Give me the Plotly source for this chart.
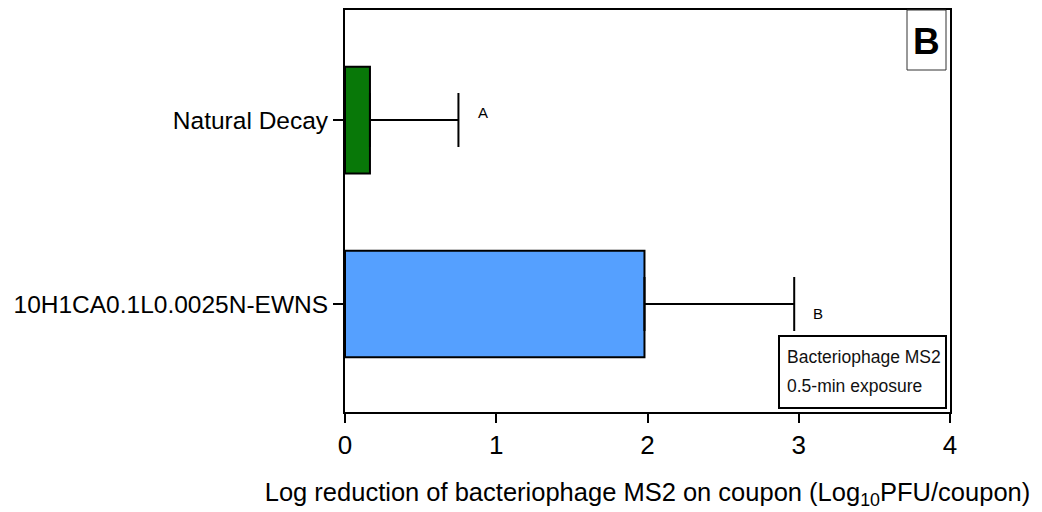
import plotly.graph_objects as go

categories = ["10H1CA0.1L0.0025N-EWNS", "Natural Decay"]
values = [1.98, 0.165]
errors = [0.99, 0.585]
colors = ["#55a0ff", "#087808"]
letters = ["B", "A"]
x_ticks = [0, 1, 2, 3, 4]

L, R, T, B = 345, 950, 10, 412
W, H = 1042, 512

def px(xp):
    return (xp - L) / (R - L)

def py(yp):
    return (B - yp) / (B - T)

fig = go.Figure()
fig.add_trace(go.Bar(
    y=categories, x=values, orientation="h", width=0.58,
    marker=dict(color=colors, line=dict(color="black", width=2)),
    error_x=dict(type="data", array=errors, symmetric=False, arrayminus=[0, 0],
                 color="black", thickness=2, width=27),
    showlegend=False,
))

# significance letters
fig.add_annotation(x=0.912, y=1.043, xref="x", yref="y", text=letters[1], showarrow=False,
                   xanchor="center", yanchor="middle",
                   font=dict(size=15, color="black", family="Liberation Sans"))
fig.add_annotation(x=3.127, y=-0.049, xref="x", yref="y", text=letters[0], showarrow=False,
                   xanchor="center", yanchor="middle",
                   font=dict(size=15, color="black", family="Liberation Sans"))

# panel label box
fig.add_shape(type="rect", xref="paper", yref="paper", x0=px(907), x1=px(946), y0=py(70), y1=py(10),
              line=dict(color="#333", width=1), fillcolor="white")
fig.add_annotation(x=(px(907) + px(946)) / 2, y=py(41), xref="paper", yref="paper", text="<b>B</b>",
                   showarrow=False, xanchor="center", yanchor="middle",
                   font=dict(size=37, color="black", family="Liberation Sans"))

# info box
fig.add_shape(type="rect", xref="paper", yref="paper", x0=px(779), x1=px(946), y0=py(408), y1=py(336),
              line=dict(color="black", width=2), fillcolor="white")
fig.add_annotation(x=px(785), y=py(357), xref="paper", yref="paper", text="Bacteriophage MS2",
                   showarrow=False, xanchor="left", yanchor="middle",
                   font=dict(size=17.5, color="#111", family="Liberation Sans"))
fig.add_annotation(x=px(785), y=py(386), xref="paper", yref="paper", text="0.5-min exposure",
                   showarrow=False, xanchor="left", yanchor="middle",
                   font=dict(size=17.5, color="#111", family="Liberation Sans"))

fig.update_layout(
    width=W, height=H,
    margin=dict(l=L, r=W - R, t=T, b=H - B),
    plot_bgcolor="white", paper_bgcolor="white",
    font=dict(family="Liberation Sans", color="black"),
    xaxis=dict(range=[0, 4], tickvals=x_ticks, ticks="outside", ticklen=9, tickwidth=2,
               tickcolor="black", showline=True, linecolor="black", linewidth=2, mirror=True,
               showgrid=False, zeroline=False, tickfont=dict(size=26), automargin=False,
               title=dict(text="Log reduction of bacteriophage MS2 on coupon (Log<sub>10</sub>PFU/coupon)",
                          font=dict(size=25.5), standoff=24)),
    yaxis=dict(type="category", categoryorder="array", categoryarray=categories,
               range=[-0.587, 1.598], ticks="outside", ticklen=10, tickwidth=2, tickcolor="black",
               showline=True, linecolor="black", linewidth=2, mirror=True, showgrid=False,
               zeroline=False, tickfont=dict(size=24.5), automargin=False),
)

fig.write_html("out.html")
